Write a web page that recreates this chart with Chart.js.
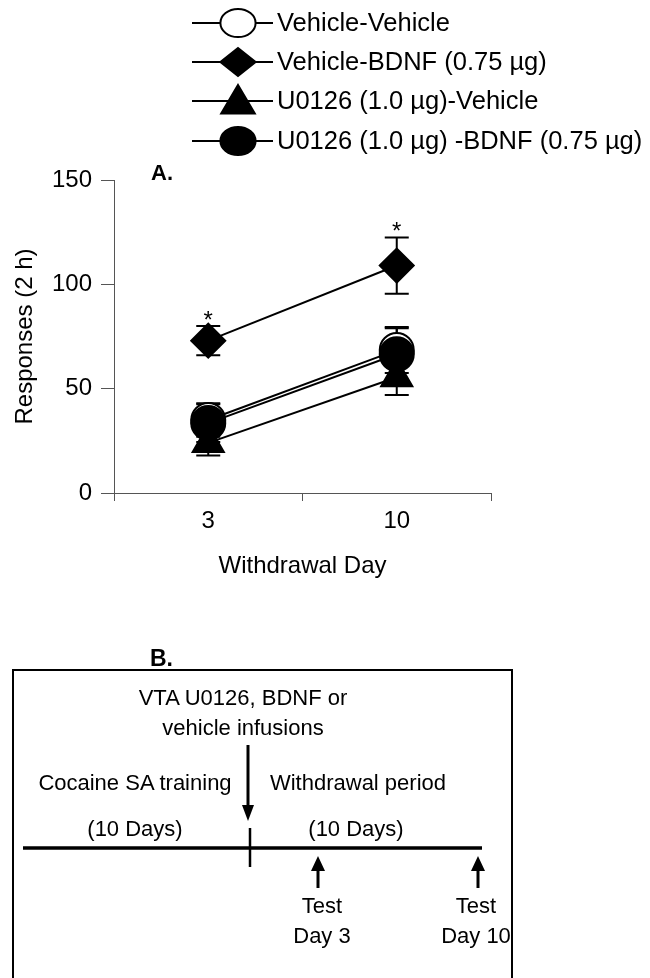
<!DOCTYPE html>
<html>
<head>
<meta charset="utf-8">
<script src="https://cdn.jsdelivr.net/npm/chart.js@4.4.1/dist/chart.umd.min.js"></script>
<style>
  html, body { margin: 0; padding: 0; background: #fff; }
  #wrap { position: relative; width: 650px; height: 978px; overflow: hidden; }
  #chart { position: absolute; left: 0; top: 0; }
  #panelB { position: absolute; left: 0; top: 0; pointer-events: none; }
  #panelB text { font-family: "Liberation Sans", Arial, sans-serif; fill: #000; }
</style>
</head>
<body>
<div id="wrap">
  <canvas id="chart" width="650" height="600"></canvas>
  <svg id="panelB" width="650" height="978" viewBox="0 0 650 978">
    <text x="150" y="666" font-size="23" font-weight="bold">B.</text>
    <rect x="13" y="670" width="499" height="340" fill="none" stroke="#000" stroke-width="2"/>
    <g font-size="22" text-anchor="middle">
      <text x="243" y="705">VTA U0126, BDNF or</text>
      <text x="243" y="735">vehicle infusions</text>
      <text x="135" y="790">Cocaine SA training</text>
      <text x="358" y="790">Withdrawal period</text>
      <text x="135" y="836">(10 Days)</text>
      <text x="356" y="836">(10 Days)</text>
      <text x="322" y="913">Test</text>
      <text x="322" y="943">Day 3</text>
      <text x="476" y="913">Test</text>
      <text x="476" y="943">Day 10</text>
    </g>
    <!-- timeline -->
    <line x1="23" y1="848" x2="482" y2="848" stroke="#000" stroke-width="3.5"/>
    <line x1="250" y1="828" x2="250" y2="867" stroke="#000" stroke-width="2.5"/>
    <!-- infusion arrow -->
    <line x1="248" y1="745" x2="248" y2="808" stroke="#000" stroke-width="3"/>
    <polygon points="242,805 254,805 248,821" fill="#000"/>
    <!-- test arrows -->
    <line x1="318" y1="868" x2="318" y2="888" stroke="#000" stroke-width="3"/>
    <polygon points="311,871 325,871 318,856" fill="#000"/>
    <line x1="478" y1="868" x2="478" y2="888" stroke="#000" stroke-width="3"/>
    <polygon points="471,871 485,871 478,856" fill="#000"/>
  </svg>
</div>
<script>
// withdrawal days on the x axis
const days = ['3', '10'];
const yTicks = [0, 50, 100, 150];

// group means and SEM
const vehVeh = [35, 68.5];
const vehVehErr = [8, 11];
const vehBdnf = [73, 109];
const vehBdnfErr = [7, 13.5];
const u0126Veh = [24, 55.5];
const u0126VehErr = [6, 8.5];
const u0126Bdnf = [33.5, 66.5];
const u0126BdnfErr = [9, 12.5];
const bdnfSig = ['*', '*'];

const FONT = '"Liberation Sans", Arial, sans-serif';

// error bars + significance stars, under the markers
const errorBars = {
  id: 'errorBars',
  beforeDatasetsDraw(chart) {
    const { ctx, scales: { y } } = chart;
    ctx.save();
    ctx.strokeStyle = '#000';
    ctx.lineWidth = 2;
    chart.data.datasets.forEach((ds, i) => {
      const meta = chart.getDatasetMeta(i);
      meta.data.forEach((pt, j) => {
        const top = y.getPixelForValue(ds.data[j] + ds.err[j]);
        const bot = y.getPixelForValue(ds.data[j] - ds.err[j]);
        ctx.beginPath();
        ctx.moveTo(pt.x, top); ctx.lineTo(pt.x, bot);
        ctx.moveTo(pt.x - 12, top); ctx.lineTo(pt.x + 12, top);
        ctx.moveTo(pt.x - 12, bot); ctx.lineTo(pt.x + 12, bot);
        ctx.stroke();
        if (ds.sig && ds.sig[j]) {
          ctx.fillStyle = '#000';
          ctx.font = '24px ' + FONT;
          ctx.textAlign = 'center';
          ctx.textBaseline = 'alphabetic';
          ctx.fillText(ds.sig[j], pt.x, top + 2);
        }
      });
    });
    ctx.restore();
  }
};

function drawMarker(ctx, style, x, y, r, fill) {
  ctx.beginPath();
  if (style === 'circle') {
    ctx.ellipse(x, y, r * 1.1, r * 0.88, 0, 0, Math.PI * 2);
  } else if (style === 'rectRot') {
    ctx.moveTo(x, y - r * 0.88); ctx.lineTo(x + r * 1.1, y);
    ctx.lineTo(x, y + r * 0.88); ctx.lineTo(x - r * 1.1, y);
    ctx.closePath();
  } else {
    ctx.moveTo(x, y - r); ctx.lineTo(x + r * 1.05, y + r * 0.78);
    ctx.lineTo(x - r * 1.05, y + r * 0.78);
    ctx.closePath();
  }
  ctx.fillStyle = fill;
  ctx.fill();
  ctx.lineWidth = 2;
  ctx.strokeStyle = '#000';
  ctx.stroke();
}

// legend: line through marker, label on the right
const lineLegend = {
  id: 'lineLegend',
  afterDraw(chart) {
    const ctx = chart.ctx;
    const rows = [23, 62, 101, 141];
    ctx.save();
    chart.data.datasets.forEach((ds) => {
      const y = rows[ds.legendRow];
      ctx.beginPath();
      ctx.moveTo(192, y); ctx.lineTo(273, y);
      ctx.lineWidth = 2; ctx.strokeStyle = '#000';
      ctx.stroke();
      drawMarker(ctx, ds.pointStyle, 238, y, 16, ds.pointBackgroundColor);
      ctx.fillStyle = '#000';
      ctx.font = '25.5px ' + FONT;
      ctx.textAlign = 'left';
      ctx.textBaseline = 'middle';
      ctx.fillText(ds.label, 277, y + 1);
    });
    ctx.font = 'bold 22px ' + FONT;
    ctx.textBaseline = 'middle';
    ctx.fillText('A.', 151, 174);
    ctx.restore();
  }
};

const line = (label, data, err, style, fill, r, row, order) => ({
  label, data, err, legendRow: row, order,
  borderColor: '#000', borderWidth: 2,
  pointStyle: style, pointRadius: r, pointHoverRadius: r,
  pointBackgroundColor: fill, pointBorderColor: '#000', pointBorderWidth: 2,
  tension: 0, fill: false
});

const datasets = [
  line('Vehicle-Vehicle', vehVeh, vehVehErr, 'circle', '#fff', 17, 0, 3),
  Object.assign(line('Vehicle-BDNF (0.75 µg)', vehBdnf, vehBdnfErr, 'rectRot', '#000', 17, 1, 2), { sig: bdnfSig }),
  line('U0126 (1.0 µg)-Vehicle', u0126Veh, u0126VehErr, 'triangle', '#000', 18, 2, 1),
  line('U0126 (1.0 µg) -BDNF (0.75 µg)', u0126Bdnf, u0126BdnfErr, 'circle', '#000', 17, 3, 0)
];

new Chart(document.getElementById('chart'), {
  type: 'line',
  data: { labels: days, datasets },
  options: {
    responsive: false,
    animation: false,
    layout: { padding: { top: 180, right: 159, left: 0, bottom: 0 } },
    plugins: { legend: { display: false }, tooltip: { enabled: false } },
    scales: {
      x: {
        type: 'category',
        offset: true,
        grid: { offset: true, drawOnChartArea: false, tickLength: 8, color: '#555', lineWidth: 1 },
        border: { display: true, color: '#555', width: 1 },
        ticks: { color: '#000', font: { size: 24, family: FONT }, padding: 6 },
        title: { display: true, text: 'Withdrawal Day', color: '#000', font: { size: 24, family: FONT }, padding: { top: 0, bottom: 19 } },
        afterFit(s) { s.height = 107; }
      },
      y: {
        min: yTicks[0],
        max: yTicks[yTicks.length - 1],
        afterBuildTicks(s) { s.ticks = yTicks.map(v => ({ value: v })); },
        grid: { drawOnChartArea: false, tickLength: 13, color: '#555', lineWidth: 1 },
        border: { display: true, color: '#555', width: 1 },
        ticks: { color: '#000', font: { size: 24, family: FONT }, padding: 9 },
        title: { display: true, text: 'Responses (2 h)', color: '#000', font: { size: 24, family: FONT }, padding: { top: 11, bottom: 0 } },
        afterFit(s) { s.width = 114; }
      }
    }
  },
  plugins: [errorBars, lineLegend]
});
</script>
</body>
</html>
